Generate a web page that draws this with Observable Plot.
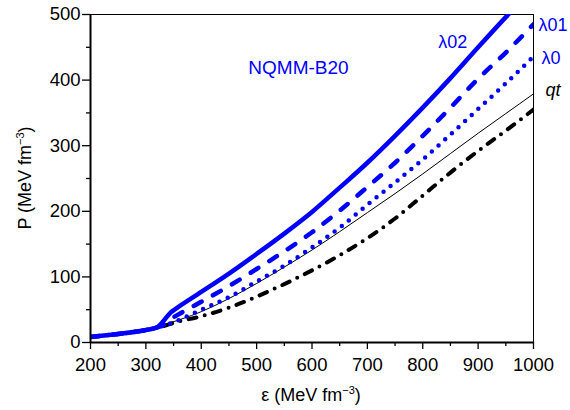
<!DOCTYPE html>
<html><head><meta charset="utf-8">
<script src="https://cdn.jsdelivr.net/npm/d3@7"></script>
<script src="https://cdn.jsdelivr.net/npm/@observablehq/plot@0.6"></script>
<style>
body{margin:0;background:#fff}
#chart svg{font-family:"Liberation Sans",Arial,sans-serif}
</style>
</head><body><div id="chart"></div>
<script>
// ---- data ----
const epsLow = [200, 250, 300, 320];
const pLow   = [8.5, 13, 19, 23];

const epsL02 = [330, 345, 355, 400, 450, 500, 550, 600, 650, 700, 750, 800, 850, 900, 950, 1000];
const pL02   = [31, 46, 52, 77, 105, 135, 166, 199, 236, 274, 315, 358, 403, 450, 496, 540];

const epsL01 = [330, 345, 355, 400, 450, 500, 550, 600, 650, 700, 750, 800, 850, 900, 950, 1000];
const pL01   = [26, 36, 41, 62, 86, 112, 139, 168, 201, 237, 274, 315, 358, 402, 442, 485];

const epsL0  = [330, 356, 400, 450, 500, 550, 600, 650, 700, 750, 800, 850, 900, 950, 1000];
const pL0    = [25, 33, 50, 69, 93, 117, 145, 175, 210, 244, 279, 317, 356, 395, 436];

const epsQt  = [330, 400, 450, 500, 550, 600, 650, 700, 750, 800, 850, 900, 950, 1000];
const pQt    = [26, 47, 67, 90, 115, 141, 169, 198, 227, 257, 288, 319, 349, 379];

const epsDD  = [332, 350, 400, 450, 500, 550, 600, 650, 700, 750, 800, 850, 900, 950, 1000];
const pDD    = [25, 30, 40, 53, 70, 89, 110, 133, 159, 189, 224, 259, 292, 323, 355];

const xTicks = [200, 300, 400, 500, 600, 700, 800, 900, 1000];
const xMinor = [250, 350, 450, 550, 650, 750, 850, 950];
const yTicks = [0, 100, 200, 300, 400, 500];
const yMinor = [50, 150, 250, 350, 450];

const curveNames = ["λ02", "λ01", "λ0", "qt"];
const panelTitle = "NQMM-B20";

function series(eps, p) {
  const a = epsLow.map((e, i) => ({eps: e, p: pLow[i]}));
  return a.concat(eps.map((e, i) => ({eps: e, p: p[i]})));
}
const dL02 = series(epsL02, pL02);
const dL01 = series(epsL01, pL01);
const dL0  = series(epsL0, pL0);
const dQt  = series(epsQt, pQt);
const dDD  = series(epsDD, pDD);

const BLUE = "#0000ff";
const C = "monotone-x";

const chart = Plot.plot({
  width: 570, height: 410,
  marginLeft: 90, marginRight: 37, marginTop: 14, marginBottom: 68,
  x: {domain: [200, 1000]},
  y: {domain: [0, 500]},
  style: {fontSize: "18.5px", fontFamily: "Liberation Sans, Arial, sans-serif", color: "black", background: "white"},
  marks: [
    Plot.axisX({ticks: xTicks, tickSize: 7, tickPadding: 8, label: null, tickFormat: d => String(d), strokeWidth: 1.3, fontSize: 18.5}),
    Plot.axisX({ticks: xMinor, tickSize: 4, label: null, tickFormat: () => "", strokeWidth: 1.3}),
    Plot.axisY({ticks: yTicks, tickSize: 8, tickPadding: 2, label: null, tickFormat: d => String(d), strokeWidth: 1.3, fontSize: 18.5}),
    Plot.axisY({ticks: yMinor, tickSize: 4, label: null, tickFormat: () => "", strokeWidth: 1.3}),
    Plot.ruleY([500], {stroke: "black", strokeWidth: 1}),
    Plot.ruleX([1000], {stroke: "black", strokeWidth: 1}),
    Plot.line(dDD, {x: "eps", y: "p", curve: C, stroke: "black", strokeWidth: 4, strokeDasharray: "8,8.5,0,8.5", strokeLinecap: "round", clip: true}),
    Plot.line(dQt, {x: "eps", y: "p", curve: C, stroke: "black", strokeWidth: 1, clip: true}),
    Plot.line(dL0, {x: "eps", y: "p", curve: C, stroke: BLUE, strokeWidth: 4.5, strokeDasharray: "0,9", strokeLinecap: "round", clip: true}),
    Plot.line(dL01, {x: "eps", y: "p", curve: C, stroke: BLUE, strokeWidth: 4.5, strokeDasharray: "9,13", strokeLinecap: "round", clip: true}),
    Plot.line(dL02, {x: "eps", y: "p", curve: C, stroke: BLUE, strokeWidth: 4.5, clip: true}),
    Plot.ruleY([0], {stroke: "black", strokeWidth: 2}),
    Plot.ruleX([200], {stroke: "black", strokeWidth: 2}),
    Plot.text([curveNames[0]], {x: 828, y: 458, text: d => d, fill: BLUE, textAnchor: "start", fontSize: 18}),
    Plot.text([curveNames[1]], {x: 1000, y: 484, text: d => d, fill: BLUE, textAnchor: "start", dx: 5, fontSize: 18}),
    Plot.text([curveNames[2]], {x: 1000, y: 434, text: d => d, fill: BLUE, textAnchor: "start", dx: 8, fontSize: 18}),
    Plot.text([curveNames[3]], {x: 1000, y: 384, text: d => d, fill: "black", textAnchor: "start", dx: 12, fontSize: 18, fontStyle: "italic"}),
    Plot.text([panelTitle], {x: 485, y: 419, text: d => d, fill: BLUE, textAnchor: "start", fontSize: 19})
  ]
});
document.getElementById("chart").appendChild(chart);

// axis titles with superscripts
const svg = d3.select(chart);
const yt = svg.append("text")
  .attr("transform", "translate(31,178) rotate(-90)")
  .attr("text-anchor", "middle")
  .attr("font-size", 18).attr("fill", "black");
yt.append("tspan").text("P (MeV fm");
yt.append("tspan").attr("dy", -7).attr("font-size", 11).text("−3");
yt.append("tspan").attr("dy", 7).text(")");

const xt = svg.append("text")
  .attr("x", 311).attr("y", 401)
  .attr("text-anchor", "middle")
  .attr("font-size", 18).attr("fill", "black");
xt.append("tspan").text("ε (MeV fm");
xt.append("tspan").attr("dy", -7).attr("font-size", 11).text("−3");
xt.append("tspan").attr("dy", 7).text(")");
</script>
</body></html>
